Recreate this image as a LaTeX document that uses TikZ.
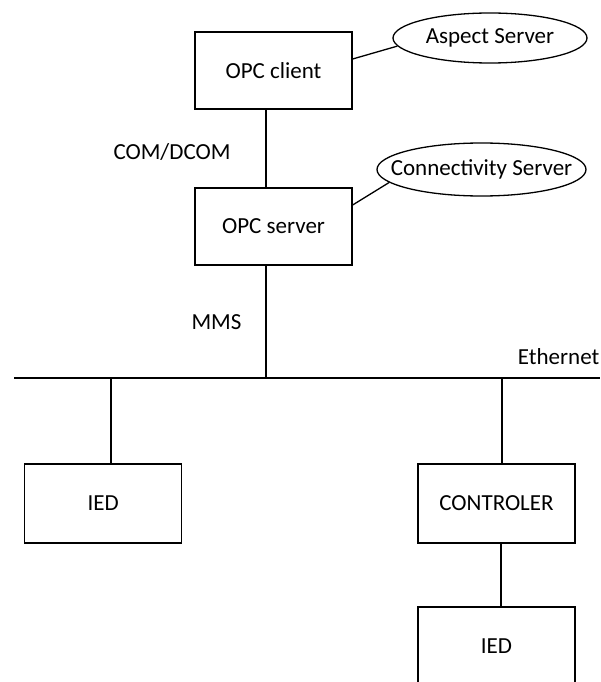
\documentclass[tikz,border=0pt]{standalone}
\usepackage{fontspec}
\setmainfont{Carlito}
\usetikzlibrary{shapes.geometric}
\begin{document}
\begin{tikzpicture}[x=1pt,y=-1pt,
  every node/.style={font=\fontsize{23}{27}\selectfont, inner sep=0pt},
  box/.style={draw, line width=1.3pt, minimum width=157pt, minimum height=77pt},
  bubble/.style={draw, ellipse, line width=1.3pt},
  link/.style={line width=1.3pt}]
\useasboundingbox (0,0) rectangle (600,682);
\node[box] (client) at (273.5,70.5) {OPC client};
\node[box] (server) at (273.5,226.5) {OPC server};
\node[bubble, minimum width=194pt, minimum height=50pt,
  label={center:Aspect Server}] (aspect) at (490,38) {};
\node[bubble, minimum width=209pt, minimum height=53pt,
  label={center:Connectivity Server}] (conn) at (481.5,169.5) {};
\node[box, minimum height=79pt] (ied1) at (103.25,503.5) {IED};
\node[box, minimum height=79pt] (ctrl) at (496.5,503.5) {CONTROLER};
\node[box, minimum height=79pt] (ied2) at (496.5,646.5) {IED};
\node (com) at (172,152) {COM/DCOM};
\node (mms) at (216.5,322) {MMS};
\node[anchor=east] (eth) at (599.5,357) {Ethernet};
\coordinate (busL) at (14,378);
\coordinate (busR) at (600,378);
\draw[link] (busL) -- (busR);
\draw[link] ([yshift=11.5pt]client.east) -- (aspect.185);
\draw[link] ([yshift=21.5pt]server.east) -- (conn.188);
\draw[link] ([xshift=-7.5pt]client.south) -- ([xshift=-7.5pt]server.north);
\draw[link] ([xshift=-7.5pt]server.south) -- ([xshift=-7.5pt]server.south |- busL);
\draw[link] ([xshift=7.75pt]ied1.north |- busL) -- ([xshift=7.75pt]ied1.north);
\draw[link] ([xshift=5.5pt]ctrl.north |- busL) -- ([xshift=5.5pt]ctrl.north);
\draw[link] ([xshift=4.5pt]ctrl.south) -- ([xshift=4.5pt]ied2.north);
\end{tikzpicture}
\end{document}
